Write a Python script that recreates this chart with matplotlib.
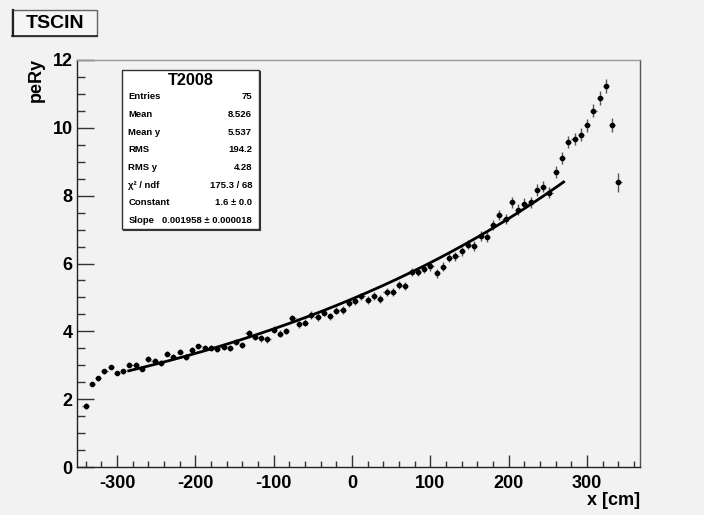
import matplotlib.pyplot as plt
import numpy as np
from matplotlib.patches import Rectangle
from matplotlib.lines import Line2D

plt.rcParams['font.family'] = ['Liberation Sans', 'DejaVu Sans']
plt.rcParams['font.weight'] = 'bold'
plt.rcParams['axes.unicode_minus'] = False

# profile binning: 86 bins of 8 cm
bin_lo, bin_hi, n_bins = -344.0, 344.0, 86
half_width = 4.0

pe_ry = [
    1.80, 2.45, 2.62, 2.82, 2.95, 2.77, 2.82, 3.02, 3.02, 2.90,
    3.18, 3.13, 3.07, 3.34, 3.24, 3.40, 3.24, 3.45, 3.56, 3.52,
    3.51, 3.47, 3.53, 3.51, 3.68, 3.60, 3.95, 3.83, 3.79, 3.77,
    4.05, 3.93, 4.01, 4.39, 4.21, 4.26, 4.48, 4.42, 4.55, 4.44,
    4.61, 4.63, 4.83, 4.88, 5.03, 4.93, 5.03, 4.96, 5.15, 5.16,
    5.37, 5.34, 5.74, 5.76, 5.84, 5.92, 5.71, 5.90, 6.17, 6.21,
    6.36, 6.56, 6.52, 6.81, 6.77, 7.14, 7.44, 7.30, 7.80, 7.59,
    7.76, 7.81, 8.16, 8.27, 8.09, 8.69, 9.10, 9.59, 9.66, 9.80,
    10.07, 10.51, 10.88, 11.24, 10.09, 8.40,
]
pe_err = [
    0.09, 0.07, 0.07, 0.07, 0.07, 0.07, 0.07, 0.07, 0.07, 0.07,
    0.08, 0.08, 0.08, 0.08, 0.08, 0.08, 0.08, 0.08, 0.08, 0.08,
    0.09, 0.09, 0.09, 0.09, 0.09, 0.09, 0.10, 0.10, 0.10, 0.10,
    0.10, 0.10, 0.10, 0.10, 0.10, 0.10, 0.11, 0.11, 0.11, 0.11,
    0.11, 0.11, 0.11, 0.11, 0.11, 0.12, 0.12, 0.12, 0.12, 0.12,
    0.12, 0.12, 0.12, 0.12, 0.13, 0.13, 0.13, 0.13, 0.13, 0.13,
    0.14, 0.14, 0.14, 0.14, 0.15, 0.15, 0.15, 0.15, 0.16, 0.16,
    0.16, 0.16, 0.17, 0.17, 0.17, 0.17, 0.18, 0.18, 0.18, 0.19,
    0.19, 0.20, 0.20, 0.21, 0.21, 0.28,
]

# expo fit: exp(constant + slope * x)
fit_constant = 1.6
fit_slope = 0.001958
fit_range = (-285.0, 270.0)

stats_title = "T2008"
stats_rows = [
    ("Entries", "75"),
    ("Mean", "8.526"),
    ("Mean y", "5.537"),
    ("RMS", "194.2"),
    ("RMS y", "4.28"),
    ("χ² / ndf", "175.3 / 68"),
    ("Constant", "1.6 ± 0.0"),
    ("Slope", "0.001958 ± 0.000018"),
]

edges = np.linspace(bin_lo, bin_hi, n_bins + 1)
x_cm = 0.5 * (edges[:-1] + edges[1:])

W, H = 704, 515
bg = '#f2f2f2'
fig = plt.figure(figsize=(W / 100, H / 100), dpi=100, facecolor=bg)


def fx(px):
    return px / W


def fy(py):
    return 1 - py / H


ax = fig.add_axes([fx(77), fy(467), fx(640) - fx(77), fy(60) - fy(467)])
ax.set_facecolor(bg)

ax.errorbar(x_cm, pe_ry, xerr=half_width, yerr=pe_err, fmt='o', ms=3.0,
            color='black', ecolor='#555555', elinewidth=1.0, capsize=0,
            zorder=3)

xf = np.linspace(fit_range[0], fit_range[1], 200)
ax.plot(xf, np.exp(fit_constant + fit_slope * xf), color='black', lw=2.0,
        zorder=4)

ax.set_xlim(-351, 367.5)
ax.set_ylim(0, 12)
ax.set_xticks([-300, -200, -100, 0, 100, 200, 300])
ax.set_xticks(np.arange(-340, 367, 20), minor=True)
ax.set_yticks(np.arange(0, 13, 2))
ax.set_yticks(np.arange(0, 12.01, 0.5), minor=True)
ax.tick_params(axis='both', which='both', direction='in', color='#333333',
               width=1.0, labelsize=13, top=False, right=False)
ax.tick_params(axis='x', which='major', length=8.6, pad=6)
ax.tick_params(axis='x', which='minor', length=4.3)
ax.tick_params(axis='y', which='major', length=12.2, pad=3)
ax.tick_params(axis='y', which='minor', length=6.1)
for lab in ax.get_xticklabels() + ax.get_yticklabels():
    lab.set_fontweight('bold')

ax.spines['left'].set_color('#222222')
ax.spines['bottom'].set_color('#222222')
ax.spines['top'].set_color('#999999')
ax.spines['right'].set_color('#555555')
for s in ax.spines.values():
    s.set_linewidth(1.0)

fig.text(fx(640), fy(505), "x [cm]", ha='right', va='baseline',
         fontsize=13, fontweight='bold')
fig.text(fx(36), fy(58), "peRy", ha='center', va='top', rotation=90,
         fontsize=13, fontweight='bold')

# title box
fig.patches.append(Rectangle((fx(12), fy(36)), fx(97) - fx(12),
                             fy(10) - fy(36), transform=fig.transFigure,
                             facecolor='#f5f5f5', edgecolor='#666666',
                             lw=1.0))
fig.lines.append(Line2D([fx(12.5), fx(12.5)], [fy(36), fy(10)],
                        transform=fig.transFigure, color='#222222', lw=1.6))
fig.lines.append(Line2D([fx(12), fx(97)], [fy(36), fy(36)],
                        transform=fig.transFigure, color='#222222', lw=1.2))
fig.text(fx(55), fy(23), "TSCIN", ha='center', va='center', fontsize=14,
         fontweight='bold')

# statistics box
bx0, bx1, by0, by1 = 122, 259, 70, 229
fig.patches.append(Rectangle((fx(bx0), fy(by1)), fx(bx1) - fx(bx0),
                             fy(by0) - fy(by1), transform=fig.transFigure,
                             facecolor='white', edgecolor='#333333', lw=1.0,
                             zorder=5))
fig.lines.append(Line2D([fx(bx1 + 1), fx(bx1 + 1)], [fy(by1 + 1), fy(by0 + 2)],
                        transform=fig.transFigure, color='#333333', lw=1.5,
                        zorder=5))
fig.lines.append(Line2D([fx(bx0 + 2), fx(bx1 + 1)], [fy(by1 + 1), fy(by1 + 1)],
                        transform=fig.transFigure, color='#333333', lw=1.5,
                        zorder=5))
fig.lines.append(Line2D([fx(bx0), fx(bx1)], [fy(91.5), fy(91.5)],
                        transform=fig.transFigure, color='#555555', lw=0.8,
                        zorder=5))
fig.text(fx((bx0 + bx1) / 2), fy(80.5), stats_title, ha='center',
         va='center', fontsize=11.7, fontweight='bold', zorder=6)
for k, (name, val) in enumerate(stats_rows):
    yy = fy(96.8 + 17.65 * k)
    fig.text(fx(128.5), yy, name, ha='left', va='center', fontsize=6.8,
             fontweight='bold', zorder=6)
    fig.text(fx(252), yy, val, ha='right', va='center', fontsize=6.8,
             fontweight='bold', zorder=6)

fig.savefig('out.png', dpi=100, facecolor=bg)
